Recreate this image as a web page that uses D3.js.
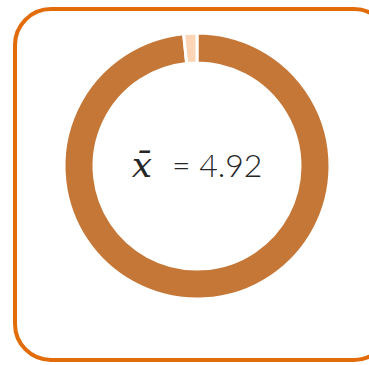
<!DOCTYPE html>
<html>
<head>
<meta charset="utf-8">
<script src="https://cdn.jsdelivr.net/npm/d3@7"></script>
<style>
  body { margin: 0; background: #fff; }
</style>
</head>
<body>
<div id="chart"></div>
<script>
var labels = ["mean", "rest"];
var values = [4.92, 0.08];
var colors = ["#C47737", "#FBD5B5"];
var meanLabel = "4.92";

var width = 369, height = 365;

var svg = d3.select("#chart").append("svg")
  .attr("width", width)
  .attr("height", height);

// card border (runs off the right edge like the original)
svg.append("rect")
  .attr("x", 15)
  .attr("y", 9)
  .attr("width", 375)
  .attr("height", 351)
  .attr("rx", 36)
  .attr("fill", "none")
  .attr("stroke", "#E36C0A")
  .attr("stroke-width", 4);

var g = svg.append("g")
  .attr("transform", "translate(197,166)");

var pie = d3.pie().sort(null).value(function (d) { return d; });
var arc = d3.arc().innerRadius(103).outerRadius(133);

g.selectAll("path")
  .data(pie(values))
  .enter().append("path")
  .attr("d", arc)
  .attr("fill", function (d, i) { return colors[i]; })
  .attr("stroke", "#fff")
  .attr("stroke-width", 3);

var t = g.append("text")
  .attr("y", 11)
  .attr("text-anchor", "middle")
  .attr("fill", "#262626")
  .style("font-family", "Lato, 'Open Sans', sans-serif")
  .style("font-weight", 300)
  .style("font-size", "32px");

t.append("tspan")
  .style("font-family", "'DejaVu Serif', serif")
  .style("font-style", "italic")
  .style("font-size", "36px")
  .text("x\u0304");
t.append("tspan").attr("dx", 20).text("= " + meanLabel);
</script>
</body>
</html>
